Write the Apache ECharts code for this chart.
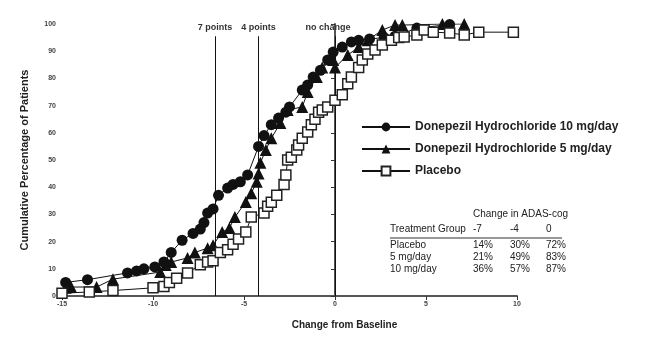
<!DOCTYPE html>
<html><head><meta charset="utf-8">
<script src="https://cdn.jsdelivr.net/npm/echarts@6/dist/echarts.min.js"></script>
<style>html,body{margin:0;padding:0;background:#fff}#c{width:657px;height:348px}</style>
</head><body><div id="c"></div>
<script>
const mg10X = [-14.8,-13.6,-11.4,-10.9,-10.5,-9.9,-9.4,-9.0,-8.4,-7.8,-7.4,-7.2,-7.0,-6.7,-6.4,-5.9,-5.6,-5.2,-4.8,-4.2,-3.9,-3.5,-3.1,-2.7,-2.5,-1.8,-1.5,-1.2,-0.8,-0.4,-0.1,0.4,0.9,1.3,1.9,2.7,3.3,4.5,6.3];
const mg10Y = [5,6,8.5,9.2,10,10.7,12.5,16,20.5,23,24.6,27,30.5,32,37,39.7,41,42,44.5,55,59,63,65.4,67.6,69.5,75.7,77.6,80.5,83,86.8,89.7,91.5,93.4,94,94.5,95,95.5,98.5,99.8];
const mg5X = [-14.8,-14.5,-13.1,-12.2,-9.6,-9.3,-9.0,-8.1,-7.7,-7.0,-6.7,-6.2,-5.8,-5.5,-4.9,-4.6,-4.3,-4.2,-4.1,-3.8,-3.5,-3.0,-2.6,-1.8,-1.5,-1.0,-0.7,-0.1,0.0,0.7,1.3,1.8,2.6,3.3,3.7,5.9,7.1];
const mg5Y = [3,3.3,3.3,6.2,8.8,11.4,12.5,14,16,17.6,18.7,23.5,25,29,34.6,37.8,42,45,49,53.7,58,63.6,68.4,69.5,75,80.5,84,86.8,84,88.6,91.5,94,97.8,99.6,99.6,100,100];
const placeboX = [-15,-13.5,-12.2,-10.0,-9.4,-9.1,-8.7,-8.1,-7.4,-7.0,-6.7,-6.3,-5.9,-5.6,-5.3,-4.9,-4.6,-3.9,-3.7,-3.5,-3.2,-2.8,-2.7,-2.6,-2.4,-2.1,-2.0,-1.8,-1.5,-1.3,-1.1,-0.9,-0.7,-0.4,0.0,0.4,0.7,0.9,1.3,1.5,1.8,2.2,2.6,3.1,3.5,3.8,4.5,4.9,5.4,6.3,7.1,7.9,9.8];
const placeboY = [1,1.5,2,3,3.5,5,6.5,8.5,11.5,12.5,13,16,17,19,21,23.5,29,30.5,33,34.5,37,41,44.5,50,51,53.7,55.5,58,60.3,63,65,67.6,68.4,69.5,72,74,78,80.5,84,86.8,89,90.4,92.3,94,95,95.2,96,97.8,97,96.7,96,97,97];
const xTicks = [-15,-10,-5,0,5,10];
const refLines = [{x:-6.6,label:'7 points'},{x:-4.2,label:'4 points'},{x:0,label:'no change'}];
const seriesNames = ['Donepezil Hydrochloride 10 mg/day','Donepezil Hydrochloride 5 mg/day','Placebo'];
const tableTitle = 'Change in ADAS-cog';
const tableHeader = ['Treatment Group','-7','-4','0'];
const tableRows = [['Placebo','14%','30%','72%'],['5 mg/day','21%','49%','83%'],['10 mg/day','36%','57%','87%']];

const zip = (xs, ys) => xs.map((x,i)=>[x, ys[i]]);
const FONT = '"Liberation Sans",Arial,sans-serif';
const chart = echarts.init(document.getElementById('c'));

const tableX = [390,473,510,546];
const graphics = [];
graphics.push({type:'text', left:473, top:209, style:{text:tableTitle, font:'10px '+FONT, fill:'#222'}});
tableHeader.forEach((t,i)=>graphics.push({type:'text', left:tableX[i], top:224, style:{text:t, font:'10px '+FONT, fill:'#222'}}));
graphics.push({type:'line', shape:{x1:390,y1:238,x2:562,y2:238}, style:{stroke:'#333', lineWidth:1.2}});
tableRows.forEach((r,j)=>r.forEach((t,i)=>graphics.push({type:'text', left:tableX[i], top:240+j*12, style:{text:t, font:'10px '+FONT, fill:'#222'}})));

const lineStyle = {color:'#111', width:1};
chart.setOption({
  animation:false,
  grid:{left:62, right:140, top:24, bottom:52},
  legend:{
    orient:'vertical', left:356, top:116, itemWidth:48, itemHeight:11, itemGap:10,
    textStyle:{fontFamily:FONT, fontSize:12, fontWeight:'bold', color:'#222', padding:[0,0,0,0]},
    data:seriesNames
  },
  xAxis:{
    type:'value', min:-15, max:10, interval:5,
    name:'Change from Baseline', nameLocation:'middle', nameGap:24,
    nameTextStyle:{fontFamily:FONT, fontSize:10, fontWeight:'bold', color:'#222', padding:[0,0,0,110]},
    axisLine:{lineStyle:{color:'#555', width:2}},
    axisTick:{inside:false, length:4, lineStyle:{color:'#333', width:1}},
    axisLabel:{fontSize:7, fontWeight:'bold', color:'#444', margin:5},
    splitLine:{show:false}
  },
  yAxis:{
    type:'value', min:0, max:100, interval:10,
    name:'Cumulative Percentage of Patients', nameLocation:'middle', nameGap:32,
    nameTextStyle:{fontFamily:FONT, fontSize:11, fontWeight:'bold', color:'#222'},
    axisLine:{show:true, lineStyle:{color:'#555', width:2}},
    axisTick:{show:true, length:4, lineStyle:{color:'#333'}},
    axisLabel:{fontSize:7, fontWeight:'bold', color:'#444', margin:6},
    splitLine:{show:false}
  },
  graphic:graphics,
  series:[
    {name:seriesNames[0], type:'line', data:zip(mg10X, mg10Y), symbol:'circle', symbolSize:11,
     itemStyle:{color:'#111'}, lineStyle:lineStyle, z:4,
     markLine:{silent:true, symbol:'none', animation:false,
       lineStyle:{color:'#111', width:1, type:'solid'},
       label:{show:true, position:'end', fontFamily:FONT, fontSize:9, fontWeight:'bold', color:'#333', distance:4},
       data: refLines.map(r=>[{coord:[r.x,0]},{coord:[r.x,95.5], label:{formatter:r.label, offset:[r.x===0?-7:0,0]}}])
     }},
    {name:seriesNames[1], type:'line', data:zip(mg5X, mg5Y), symbol:'triangle', symbolSize:12,
     itemStyle:{color:'#111'}, lineStyle:lineStyle, z:3},
    {name:seriesNames[2], type:'line', data:zip(placeboX, placeboY), symbol:'rect', symbolSize:10,
     itemStyle:{color:'#fff', borderColor:'#222', borderWidth:1.5}, lineStyle:lineStyle, z:5}
  ]
});
</script></body></html>
